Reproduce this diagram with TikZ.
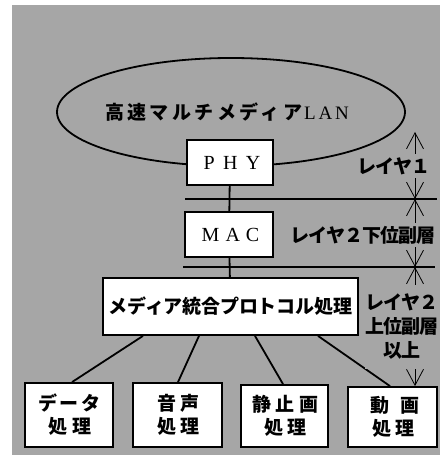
\documentclass[tikz,border=0pt]{standalone}
\usepackage{fontspec}
\setmainfont{Liberation Serif}
\newfontfamily\jp{Noto Sans CJK JP}
\usetikzlibrary{arrows.meta,shapes.geometric,calc}
\definecolor{bg}{gray}{0.65}
\newcommand\ls[2]{{\addfontfeature{LetterSpace=#1}#2}}
\tikzset{
  box/.style={draw, line width=1.8pt, fill=white, inner sep=0pt},
  conn/.style={line width=1.8pt},
  hline/.style={line width=1.3pt},
  dim/.style={line width=0.8pt, {Straight Barb[length=16pt,width=17pt]}-{Straight Barb[length=16pt,width=17pt]}},
  jpt/.style={font=\jp\bfseries\fontsize{19pt}{23pt}\selectfont, align=center},
  lat/.style={font=\rmfamily\fontsize{20pt}{20pt}\selectfont},
  lbl/.style={jpt, fill=bg, inner xsep=0pt, inner ysep=3pt}
}
\begin{document}
\begin{tikzpicture}[x=1pt,y=-1pt]
\useasboundingbox (0,0) rectangle (443,462);
\fill[bg] (12,5) rectangle (440,455);
% LAN ellipse
\node[draw, ellipse, line width=1.8pt, minimum width=348pt, minimum height=108pt, inner sep=0pt] (lan) at (231,112) {};
\node[jpt] (lantext) at (227,112) {\ls{18}{高速マルチメディア}\kern2pt{\rmfamily\mdseries\fontsize{19pt}{19pt}\selectfont\ls{15}{LAN}}};
% horizontal layer lines
\coordinate (l1a) at (185,199);
\coordinate (l1b) at (437,199);
\coordinate (l2a) at (183,267);
\coordinate (l2b) at (435,267);
\draw[hline] (l1a) -- (l1b);
\draw[hline] (l2a) -- (l2b);
% boxes
\node[box, lat, minimum width=86pt, minimum height=45pt] (phy) at (230,162.5) {\ls{42}{PHY}\kern-4pt};
\node[box, lat, minimum width=88pt, minimum height=45pt] (mac) at (229,234.5) {\ls{30}{MAC}\kern-3pt};
\node[box, jpt, minimum width=255pt, minimum height=57pt] (mp) at (230.5,306.5) {\ls{-1}{メディア統合プロトコル処理}};
\node[box, jpt, minimum width=88pt, minimum height=64pt] (m1) at (69,415) {\ls{13}{データ}\kern-1pt\\\ls{26}{処理}\kern-2pt};
\node[box, jpt, minimum width=89pt, minimum height=64pt] (m2) at (177.5,415) {\ls{26}{音声}\kern-2pt\\\ls{26}{処理}\kern-2pt};
\node[box, jpt, minimum width=87pt, minimum height=62pt] (m3) at (284.5,416) {\ls{26}{静止画}\kern-2pt\\\ls{26}{処理}\kern-2pt};
\node[box, jpt, minimum width=89pt, minimum height=60pt] (m4) at (392.5,417) {\ls{53}{動画}\kern-5pt\\\ls{26}{処理}\kern-2pt};
% connectors
\draw[conn] (phy) -- (mac);
\draw[conn] (mac) -- (mp);
\draw[conn] ([xshift=-87.5pt]mp.south) -- ([xshift=3pt]m1.north);
\draw[conn] ([xshift=-31.5pt]mp.south) -- ([xshift=0.5pt]m2.north);
\draw[conn] ([xshift=24.5pt]mp.south) -- ([xshift=-1.5pt]m3.north);
\draw[conn] ([xshift=87.5pt]mp.south) -- ([xshift=-2.5pt]m4.north);
% dimension arrows
\coordinate (d0) at (415,132);
\coordinate (d1) at (415,199);
\coordinate (d2) at (415,267);
\coordinate (d3) at (d0 |- m4.north);
\draw[dim] (d0) -- (d1);
\draw[dim] (d1) -- (d2);
\draw[dim] (d2) -- (d3);
% labels
\node[lbl] (t1) at (394,166) {\ls{-5}{レイヤ１}};
\node[lbl] (t2) at (363,235) {\ls{-5}{レイヤ２下位副層}};
\node[lbl, inner ysep=9pt, font=\jp\bfseries\fontsize{19pt}{24pt}\selectfont] (t3) at (402,327) {\ls{-5}{レイヤ２}\\\ls{-5}{上位副層}\\\ls{-5}{以上}};
\end{tikzpicture}
\end{document}
